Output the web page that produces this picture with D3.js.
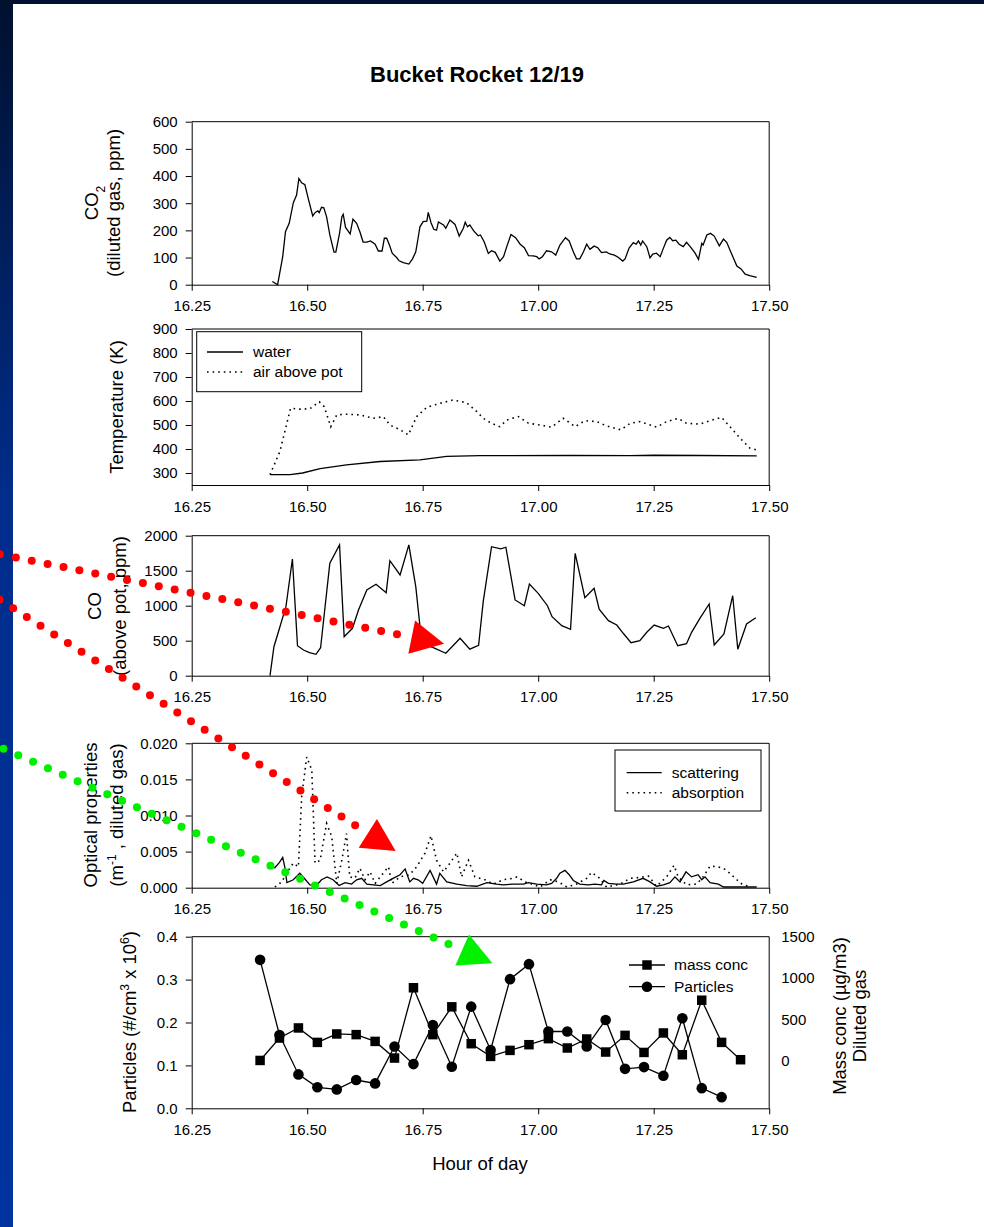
<!DOCTYPE html>
<html>
<head>
<meta charset="utf-8">
<script src="https://cdn.jsdelivr.net/npm/d3@7"></script>
<style>
body { margin: 0; background: #fff; }
svg text { font-family: "Liberation Sans", Arial, sans-serif; }
</style>
</head>
<body>
<div id="chart"></div>
<script>
// ---- data ----
var xTicks = [16.25, 16.5, 16.75, 17.0, 17.25, 17.5];

// CO2 (diluted gas, ppm)
var co2 = [[16.4245,12],[16.436,0],[16.447,103],[16.453,195],[16.461,226],[16.47,302],[16.477,330],[16.482,391],[16.488,375],[16.495,368],[16.503,312],[16.512,253],[16.517,265],[16.523,272],[16.526,265],[16.531,285],[16.536,283],[16.542,250],[16.549,183],[16.558,120],[16.562,120],[16.57,189],[16.575,250],[16.578,259],[16.583,211],[16.593,187],[16.599,241],[16.607,226],[16.614,195],[16.621,157],[16.629,157],[16.637,161],[16.647,149],[16.654,124],[16.662,124],[16.667,171],[16.672,171],[16.678,146],[16.684,116],[16.694,99],[16.699,88],[16.708,81],[16.72,76],[16.728,95],[16.735,121],[16.74,171],[16.744,213],[16.751,232],[16.759,234],[16.762,266],[16.768,228],[16.774,204],[16.78,201],[16.784,231],[16.795,220],[16.8,208],[16.809,238],[16.82,222],[16.829,179],[16.838,208],[16.842,230],[16.847,213],[16.852,220],[16.86,199],[16.87,180],[16.875,183],[16.883,158],[16.892,115],[16.899,125],[16.907,119],[16.917,87],[16.925,103],[16.932,140],[16.941,185],[16.951,173],[16.961,149],[16.97,136],[16.979,107],[16.989,106],[16.997,103],[17.002,95],[17.009,103],[17.018,125],[17.029,121],[17.038,109],[17.047,146],[17.059,173],[17.067,161],[17.076,121],[17.083,95],[17.09,95],[17.098,121],[17.105,149],[17.112,130],[17.121,142],[17.129,136],[17.137,118],[17.147,121],[17.155,113],[17.165,109],[17.173,101],[17.183,87],[17.188,95],[17.197,136],[17.206,155],[17.212,149],[17.217,161],[17.222,146],[17.226,161],[17.235,140],[17.242,99],[17.248,113],[17.256,116],[17.264,103],[17.27,130],[17.278,164],[17.285,174],[17.291,162],[17.298,164],[17.305,149],[17.314,140],[17.321,156],[17.329,140],[17.339,118],[17.347,93],[17.354,152],[17.357,146],[17.365,183],[17.373,189],[17.381,179],[17.392,143],[17.401,168],[17.408,156],[17.419,112],[17.43,69],[17.439,58],[17.448,39],[17.458,33],[17.473,27]];

// Temperature (K)
var water = [[16.4195,293],[16.463,293],[16.49,300],[16.528,318],[16.585,334],[16.658,348],[16.744,355],[16.802,369],[16.874,372],[17.07,373],[17.2,372],[17.25,374],[17.35,373],[17.473,371]];
var air = [[16.4195,293],[16.441,390],[16.464,570],[16.484,566],[16.506,568],[16.526,597],[16.537,576],[16.551,493],[16.564,542],[16.585,545],[16.614,542],[16.643,528],[16.665,535],[16.679,500],[16.701,480],[16.719,459],[16.737,535],[16.759,574],[16.787,590],[16.815,604],[16.845,593],[16.867,556],[16.881,528],[16.899,507],[16.917,493],[16.932,521],[16.957,535],[16.979,507],[17.004,500],[17.029,491],[17.054,528],[17.08,493],[17.101,518],[17.127,514],[17.148,496],[17.179,480],[17.199,507],[17.22,514],[17.256,491],[17.278,514],[17.303,528],[17.321,507],[17.35,504],[17.372,518],[17.397,532],[17.415,493],[17.437,445],[17.458,404],[17.471,397]];

// CO (above pot, ppm)
var co = [[16.4195,0],[16.428,414],[16.441,700],[16.454,986],[16.468,1667],[16.479,429],[16.492,367],[16.505,329],[16.519,306],[16.529,400],[16.549,1606],[16.57,1868],[16.58,557],[16.598,677],[16.611,939],[16.629,1225],[16.649,1306],[16.671,1186],[16.679,1643],[16.701,1439],[16.72,1868],[16.735,1272],[16.748,463],[16.773,400],[16.8,320],[16.831,534],[16.852,379],[16.871,433],[16.881,1058],[16.899,1843],[16.919,1811],[16.93,1835],[16.95,1082],[16.97,1000],[16.981,1310],[17.0,1177],[17.02,1000],[17.03,843],[17.051,714],[17.07,663],[17.08,1749],[17.101,1115],[17.121,1249],[17.132,949],[17.152,786],[17.17,724],[17.184,606],[17.201,472],[17.22,500],[17.235,620],[17.251,724],[17.271,677],[17.282,710],[17.302,429],[17.321,457],[17.332,620],[17.35,820],[17.37,1024],[17.381,439],[17.402,596],[17.421,1143],[17.432,377],[17.451,739],[17.471,829]];

// Optical properties (1/m)
var scattering = [[16.429,0.0027],[16.44,0.0035],[16.447,0.0042],[16.452,0.0027],[16.456,0.0007],[16.47,0.0011],[16.484,0.002],[16.495,0.0012],[16.506,0.0004],[16.52,0.0003],[16.531,0.0011],[16.543,0.0015],[16.556,0.0011],[16.569,0.0003],[16.582,0.0007],[16.596,0.0005],[16.607,0.0011],[16.618,0.0013],[16.629,0.0005],[16.643,0.0004],[16.658,0.0003],[16.672,0.0008],[16.686,0.0013],[16.701,0.0018],[16.712,0.0026],[16.722,0.0008],[16.73,0.0013],[16.74,0.0011],[16.75,0.0006],[16.766,0.0024],[16.78,0.0005],[16.787,0.002],[16.802,0.0008],[16.824,0.0005],[16.845,0.0003],[16.867,0.0002],[16.889,0.0007],[16.91,0.0005],[16.924,0.0004],[16.946,0.0005],[16.968,0.0005],[16.979,0.0007],[16.997,0.0005],[17.018,0.0004],[17.029,0.0006],[17.04,0.0013],[17.047,0.002],[17.058,0.0024],[17.067,0.0018],[17.076,0.001],[17.09,0.0005],[17.108,0.0004],[17.123,0.0005],[17.137,0.0004],[17.142,0.001],[17.152,0.0006],[17.17,0.0005],[17.184,0.0005],[17.206,0.0008],[17.227,0.0013],[17.242,0.0008],[17.256,0.0002],[17.271,0.0004],[17.285,0.0007],[17.296,0.0015],[17.307,0.0008],[17.32,0.0022],[17.332,0.0015],[17.346,0.0018],[17.354,0.0011],[17.361,0.0015],[17.372,0.0007],[17.39,0.0005],[17.401,0.0001],[17.43,0.0001],[17.473,0.0001]];
var absorption = [[16.43,0.0001],[16.445,0.0008],[16.457,0.0022],[16.47,0.0034],[16.481,0.0029],[16.488,0.0126],[16.499,0.0181],[16.51,0.0163],[16.517,0.0034],[16.528,0.0038],[16.542,0.0089],[16.553,0.0071],[16.564,0.0006],[16.575,0.0038],[16.585,0.0075],[16.592,0.0015],[16.603,0.0013],[16.614,0.0027],[16.625,0.0011],[16.636,0.0022],[16.647,0.0006],[16.658,0.0015],[16.676,0.0029],[16.683,0.0006],[16.701,0.0015],[16.722,0.0018],[16.737,0.0029],[16.755,0.0048],[16.768,0.0072],[16.78,0.0038],[16.795,0.0022],[16.809,0.0034],[16.824,0.0048],[16.834,0.0015],[16.849,0.0038],[16.863,0.0015],[16.885,0.0011],[16.903,0.0005],[16.924,0.0011],[16.946,0.0013],[16.954,0.0015],[16.972,0.0008],[16.986,0.0005],[17.004,0.0001],[17.026,0.0011],[17.044,0.0008],[17.062,0.0001],[17.083,0.0005],[17.105,0.0013],[17.115,0.0021],[17.13,0.0015],[17.148,0.0001],[17.177,0.0005],[17.199,0.0013],[17.217,0.0014],[17.239,0.0016],[17.256,0.0002],[17.278,0.0015],[17.294,0.0031],[17.303,0.0015],[17.321,0.0004],[17.343,0.0005],[17.357,0.0015],[17.372,0.003],[17.387,0.0029],[17.401,0.0027],[17.415,0.002],[17.43,0.0011],[17.441,0.0005],[17.458,0.0001]];

// Particles (#/cm3 x 10^6) and mass conc (ug/m3)
var particles = [[16.398,0.346],[16.44,0.171],[16.481,0.079],[16.522,0.049],[16.564,0.044],[16.606,0.066],[16.647,0.058],[16.689,0.144],[16.73,0.103],[16.772,0.194],[16.813,0.097],[16.855,0.237],[16.897,0.136],[16.939,0.301],[16.98,0.336],[17.022,0.179],[17.063,0.179],[17.105,0.144],[17.146,0.206],[17.188,0.092],[17.229,0.096],[17.271,0.076],[17.312,0.21],[17.354,0.047],[17.397,0.026]];
var massConc = [[16.398,0],[16.44,272],[16.481,394],[16.522,219],[16.564,321],[16.606,313],[16.647,231],[16.689,29],[16.73,881],[16.772,313],[16.813,650],[16.855,203],[16.897,49],[16.939,122],[16.98,191],[17.022,264],[17.063,151],[17.105,260],[17.146,102],[17.188,304],[17.229,97],[17.271,333],[17.312,69],[17.354,730],[17.397,219],[17.438,9]];
var massTicks = [0, 500, 1000, 1500];

// ---- page ----
var width = 984, height = 1227;
var font = "Liberation Sans, Arial, sans-serif";

var svg = d3.select("#chart")
  .append("svg")
    .attr("width", width)
    .attr("height", height);

// slide background: dark top band and blue strip on the left
var grad = svg.append("defs").append("linearGradient")
  .attr("id", "strip").attr("x1", 0).attr("y1", 0).attr("x2", 0).attr("y2", 1);
grad.append("stop").attr("offset", "0%").attr("stop-color", "#00102e");
grad.append("stop").attr("offset", "40%").attr("stop-color", "#002d8a");
grad.append("stop").attr("offset", "100%").attr("stop-color", "#0033a0");
svg.append("rect").attr("width", width).attr("height", 4).attr("fill", "#00102e");
svg.append("rect").attr("width", 13).attr("height", height).attr("fill", "url(#strip)");

// shared x scale
var x = d3.scaleLinear().domain([16.25, 17.5]).range([191.7, 769.2]);
var x0 = x.range()[0], x1 = x.range()[1];

// y scales, one per panel
var yCo2 = d3.scaleLinear().domain([0, 600]).range([284.7, 121.7]);
var yTemp = d3.scaleLinear().domain([250, 900]).range([485, 329]);
var yCo = d3.scaleLinear().domain([0, 2000]).range([675.7, 535.7]);
var yOpt = d3.scaleLinear().domain([0, 0.02]).range([887.7, 743.3]);
var yPart = d3.scaleLinear().domain([0, 0.4]).range([1108.3, 936.7]);
var yMass = d3.scaleLinear().domain([-580, 1500]).range([1108.3, 936.7]);

function drawPanel(y, ticks, fmt) {
  var top = y.range()[1], bottom = y.range()[0];
  // frame top and right
  svg.append("path")
    .attr("d", "M" + x0 + "," + top + "H" + x1 + "V" + bottom)
    .attr("fill", "none").attr("stroke", "#000").attr("stroke-width", 1);
  svg.append("g")
    .attr("transform", "translate(0," + bottom + ")")
    .call(d3.axisBottom(x).tickValues(xTicks).tickFormat(d3.format(".2f"))
      .tickSize(6).tickPadding(10).tickSizeOuter(0))
    .attr("font-size", 15).attr("font-family", font);
  svg.append("g")
    .attr("transform", "translate(" + x0 + ",0)")
    .call(d3.axisLeft(y).tickValues(ticks).tickFormat(fmt)
      .tickSize(6).tickPadding(8).tickSizeOuter(0))
    .attr("font-size", 15).attr("font-family", font);
}

function drawLine(data, y, dotted) {
  svg.append("path")
    .datum(data)
    .attr("fill", "none")
    .attr("stroke", "#000")
    .attr("stroke-width", dotted ? 1.6 : 1.3)
    .attr("stroke-dasharray", dotted ? "1.6,4" : null)
    .attr("d", d3.line().x(function(d) { return x(d[0]); }).y(function(d) { return y(d[1]); }));
}

// rotated axis title, lines given as arrays of [text, kind] parts
function yTitle(cx, cy, parts) {
  var t = svg.append("text")
    .attr("transform", "translate(" + cx + "," + cy + ")rotate(-90)")
    .attr("text-anchor", "middle")
    .attr("dy", "0.35em")
    .attr("font-size", 18.5);
  parts.forEach(function(p) {
    var s = t.append("tspan").text(p[0]);
    if (p[1] == "sub") s.attr("font-size", 12).attr("baseline-shift", "sub");
    if (p[1] == "sup") s.attr("font-size", 12).attr("baseline-shift", "super");
  });
}

// title
svg.append("text")
  .attr("x", 477).attr("y", 82)
  .attr("text-anchor", "middle")
  .attr("font-size", 22).attr("font-weight", "bold")
  .text("Bucket Rocket 12/19");

// panel 1: CO2
drawPanel(yCo2, d3.range(0, 601, 100), d3.format("d"));
drawLine(co2, yCo2, false);
yTitle(92, 203, [["CO"], ["2", "sub"]]);
yTitle(114, 203, [["(diluted gas, ppm)"]]);

// panel 2: temperature
drawPanel(yTemp, d3.range(300, 901, 100), d3.format("d"));
drawLine(water, yTemp, false);
drawLine(air, yTemp, true);
yTitle(117, 407, [["Temperature (K)"]]);

var lg2 = svg.append("g").attr("font-size", 15.5);
lg2.append("rect").attr("x", 196.7).attr("y", 331.7).attr("width", 165).attr("height", 60)
  .attr("fill", "#fff").attr("stroke", "#000");
[["water", false], ["air above pot", true]].forEach(function(d, i) {
  var yy = 352 + i * 20;
  lg2.append("line").attr("x1", 207).attr("x2", 243).attr("y1", yy).attr("y2", yy)
    .attr("stroke", "#000").attr("stroke-width", d[1] ? 1.6 : 1.3)
    .attr("stroke-dasharray", d[1] ? "1.6,4" : null);
  lg2.append("text").attr("x", 253).attr("y", yy).attr("dy", "0.35em").text(d[0]);
});

// panel 3: CO
drawPanel(yCo, d3.range(0, 2001, 500), d3.format("d"));
drawLine(co, yCo, false);
yTitle(95, 606, [["CO"]]);
yTitle(120, 606, [["(above pot, ppm)"]]);

// panel 4: optical properties
drawPanel(yOpt, d3.range(0, 0.0201, 0.005), d3.format(".3f"));
drawLine(absorption, yOpt, true);
drawLine(scattering, yOpt, false);
yTitle(91, 815, [["Optical properties"]]);
yTitle(117, 815, [["(m"], ["-1", "sup"], [" , diluted gas)"]]);

var lg4 = svg.append("g").attr("font-size", 15.5);
lg4.append("rect").attr("x", 615).attr("y", 750).attr("width", 146).attr("height", 61)
  .attr("fill", "#fff").attr("stroke", "#000");
[["scattering", false], ["absorption", true]].forEach(function(d, i) {
  var yy = 772.7 + i * 20;
  lg4.append("line").attr("x1", 626.7).attr("x2", 661.7).attr("y1", yy).attr("y2", yy)
    .attr("stroke", "#000").attr("stroke-width", d[1] ? 1.6 : 1.3)
    .attr("stroke-dasharray", d[1] ? "1.6,4" : null);
  lg4.append("text").attr("x", 671.7).attr("y", yy).attr("dy", "0.35em").text(d[0]);
});

// panel 5: particles + mass conc (right axis)
drawPanel(yPart, d3.range(0, 0.41, 0.1), d3.format(".1f"));
var rightAxis = svg.append("g")
  .attr("transform", "translate(" + x1 + ",0)")
  .call(d3.axisRight(yMass).tickValues(massTicks).tickFormat(d3.format("d"))
    .tickSize(0).tickPadding(12))
  .attr("font-size", 15).attr("font-family", font);
rightAxis.select(".domain").remove();

drawLine(particles, yPart, false);
drawLine(massConc, yMass, false);
svg.selectAll(".pt")
  .data(particles)
  .enter().append("circle")
    .attr("cx", function(d) { return x(d[0]); })
    .attr("cy", function(d) { return yPart(d[1]); })
    .attr("r", 5.3)
    .attr("fill", "#000");
svg.selectAll(".ms")
  .data(massConc)
  .enter().append("path")
    .attr("transform", function(d) { return "translate(" + x(d[0]) + "," + yMass(d[1]) + ")"; })
    .attr("d", d3.symbol(d3.symbolSquare).size(90))
    .attr("fill", "#000");

yTitle(130, 1022, [["Particles (#/cm"], ["3", "sup"], [" x 10"], ["6", "sup"], [")"]]);
yTitle(840, 1016, [["Mass conc (\u00b5g/m3)"]]);
yTitle(860, 1016, [["Diluted gas"]]);

var lg5 = svg.append("g").attr("font-size", 15.5);
[["mass conc", "sq"], ["Particles", "ci"]].forEach(function(d, i) {
  var yy = 965 + i * 21.7;
  lg5.append("line").attr("x1", 629).attr("x2", 665).attr("y1", yy).attr("y2", yy)
    .attr("stroke", "#000").attr("stroke-width", 1.3);
  lg5.append("path")
    .attr("transform", "translate(647," + yy + ")")
    .attr("d", d3.symbol(d[1] == "sq" ? d3.symbolSquare : d3.symbolCircle).size(d[1] == "sq" ? 90 : 88))
    .attr("fill", "#000");
  lg5.append("text").attr("x", 674).attr("y", yy).attr("dy", "0.35em").text(d[0]);
});

svg.append("text")
  .attr("x", 480).attr("y", 1170)
  .attr("text-anchor", "middle")
  .attr("font-size", 18.5)
  .text("Hour of day");

// ---- slide annotations: dotted arrows, anchored in the panels they point at ----
var arrows = [
  {y: yCo, color: "#ff0000", from: [15.835, 1734], to: [16.7262, 550]},
  {y: yOpt, color: "#ff0000", from: [15.835, 0.03985], to: [16.6312, 0.00753]},
  {y: yPart, color: "#00f000", from: [15.841, 0.839], to: [16.8355, 0.369]}
];
arrows.forEach(function(a) {
  var sx = x(a.from[0]), sy = a.y(a.from[1]);
  var bx = x(a.to[0]), by = a.y(a.to[1]);
  var len = Math.hypot(bx - sx, by - sy);
  var ux = (bx - sx) / len, uy = (by - sy) / len;
  var dots = [];
  for (var s = 15; s <= len + 6; s += 16.2) dots.push([bx - ux * s, by - uy * s]);
  svg.selectAll(null)
    .data(dots)
    .enter().append("circle")
      .attr("cx", function(d) { return d[0]; })
      .attr("cy", function(d) { return d[1]; })
      .attr("r", 4)
      .attr("fill", a.color);
  var tip = [bx + ux * 33, by + uy * 33];
  var c1 = [bx - uy * 17, by + ux * 17], c2 = [bx + uy * 17, by - ux * 17];
  svg.append("path")
    .attr("d", "M" + tip + "L" + c1 + "L" + c2 + "Z")
    .attr("fill", a.color);
});
</script>
</body>
</html>
